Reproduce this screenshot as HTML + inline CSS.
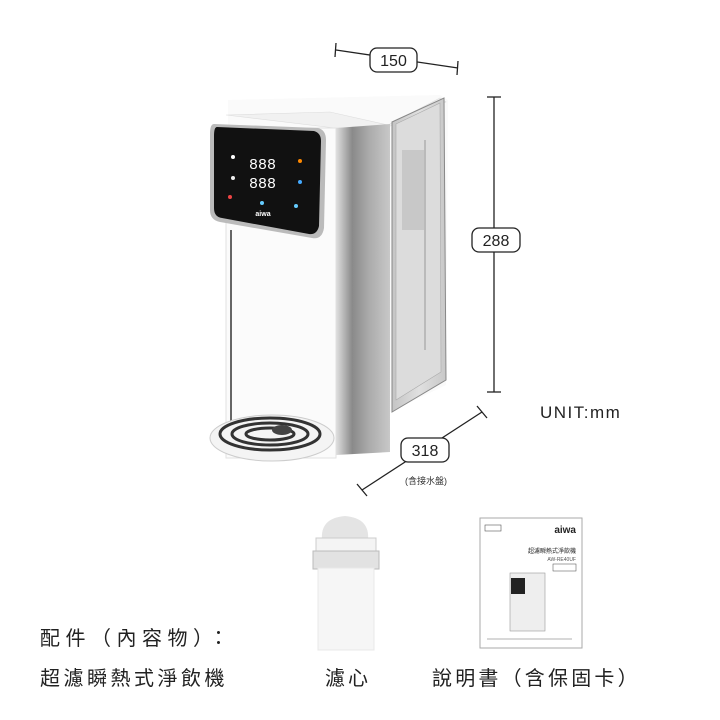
<!DOCTYPE html>
<html><head><meta charset="utf-8"><style>
body{margin:0;background:#fff;width:720px;height:720px;overflow:hidden;font-family:"Liberation Sans","Noto Sans CJK TC",sans-serif}
svg{position:absolute;left:0;top:0}
</style></head><body>
<svg width="720" height="720" viewBox="0 0 720 720" font-family="Liberation Sans, Noto Sans CJK TC, sans-serif">
<defs>
<linearGradient id="steel" x1="0" x2="1"><stop offset="0" stop-color="#e0e0e0"/><stop offset=".3" stop-color="#8a8a8a"/><stop offset=".6" stop-color="#aaa"/><stop offset="1" stop-color="#c8c8c8"/></linearGradient>
<linearGradient id="tank" x1="0" x2="1"><stop offset="0" stop-color="#c4c4c4"/><stop offset=".5" stop-color="#e0e0e0"/><stop offset="1" stop-color="#c8c8c8"/></linearGradient>
</defs>
<line x1="336" y1="50" x2="458" y2="68" stroke="#222" stroke-width="1.3"/>
<line x1="336" y1="43" x2="335" y2="57" stroke="#222" stroke-width="1.3"/>
<line x1="458" y1="61" x2="457" y2="75" stroke="#222" stroke-width="1.3"/>
<rect x="370" y="48" width="47" height="24" rx="7" fill="#fff" stroke="#222" stroke-width="1.3"/>
<text x="393.5" y="66" font-size="16" text-anchor="middle" fill="#222">150</text>
<line x1="494" y1="97" x2="494" y2="392" stroke="#222" stroke-width="1.3"/>
<line x1="487" y1="97" x2="501" y2="97" stroke="#222" stroke-width="1.3"/>
<line x1="487" y1="392" x2="501" y2="392" stroke="#222" stroke-width="1.3"/>
<rect x="472" y="228" width="48" height="24" rx="7" fill="#fff" stroke="#222" stroke-width="1.3"/>
<text x="496" y="246" font-size="16" text-anchor="middle" fill="#222">288</text>
<text x="540" y="418" font-size="17" fill="#222" letter-spacing="1.5">UNIT:mm</text>
<line x1="482" y1="412" x2="362" y2="490" stroke="#222" stroke-width="1.3"/>
<line x1="477" y1="406" x2="487" y2="418" stroke="#222" stroke-width="1.3"/>
<line x1="357" y1="484" x2="367" y2="496" stroke="#222" stroke-width="1.3"/>
<rect x="401" y="438" width="48" height="24" rx="7" fill="#fff" stroke="#222" stroke-width="1.3"/>
<text x="425" y="456" font-size="16" text-anchor="middle" fill="#222">318</text>
<text x="426" y="484" font-size="9" text-anchor="middle" fill="#333">(含接水盤)</text>
<path d="M228 100 L440 95 L448 100 L446 385 L390 412 L335 455 L228 455 Z" fill="#fafafa"/>
<path d="M226 115 L330 112 L388 125 L440 98 L446 102 L388 127 L335 128 Z" fill="#f1f1f1" stroke="#ddd" stroke-width=".6"/>
<rect x="226" y="128" width="110" height="330" fill="#fbfbfb" stroke="#e2e2e2"/>
<line x1="231" y1="230" x2="231" y2="440" stroke="#666" stroke-width="2"/>
<path d="M336 128 L390 124 L390 452 L336 455 Z" fill="url(#steel)"/>
<path d="M392 122 L444 98 L446 380 L392 412 Z" fill="url(#tank)" stroke="#888"/>
<path d="M396 124 L440 103 L441 372 L396 400 Z" fill="#dcdcdc" stroke="#aaa" stroke-width=".6"/>
<rect x="402" y="150" width="22" height="80" fill="#bbb" opacity=".6"/>
<line x1="425" y1="140" x2="425" y2="350" stroke="#999"/>
<path d="M214 124 L318 128 Q326 130 326 140 L324 228 Q322 240 312 238 L220 222 Q210 220 210 210 L210 134 Q210 124 214 124 Z" fill="#bbb"/>
<path d="M217 127 L314 131 Q321 133 321 141 L319 226 Q317 235 309 234 L222 218 Q214 217 214 208 L214 136 Q214 127 217 127 Z" fill="#111"/>
<text x="249" y="169" font-size="15" fill="#fff" font-family="Liberation Mono,monospace">888</text>
<text x="249" y="188" font-size="15" fill="#fff" font-family="Liberation Mono,monospace">888</text>
<text x="263" y="216" font-size="7" fill="#fff" text-anchor="middle" font-weight="bold">aiwa</text>
<circle cx="233" cy="157" r="2" fill="#fff"/><circle cx="233" cy="178" r="2" fill="#eee"/><circle cx="230" cy="197" r="2" fill="#e44"/>
<circle cx="300" cy="161" r="2" fill="#f80"/><circle cx="300" cy="182" r="2" fill="#4af"/><circle cx="296" cy="206" r="2" fill="#6cf"/><circle cx="262" cy="203" r="2" fill="#6cf"/>
<ellipse cx="272" cy="438" rx="62" ry="23" fill="#f4f4f4" stroke="#ccc"/>
<ellipse cx="270" cy="434" rx="50" ry="16" fill="none" stroke="#333" stroke-width="3"/>
<ellipse cx="270" cy="434" rx="38" ry="11" fill="none" stroke="#333" stroke-width="3"/>
<ellipse cx="270" cy="434" rx="24" ry="6" fill="none" stroke="#333" stroke-width="3"/>
<ellipse cx="282" cy="430" rx="10" ry="5" fill="#444"/>
<path d="M322 540 Q320 518 345 516 Q370 518 368 540 Z" fill="#e4e4e4"/>
<rect x="316" y="538" width="60" height="14" fill="#f4f4f4" stroke="#ccc"/>
<rect x="313" y="551" width="66" height="18" fill="#e2e2e2" stroke="#bbb"/>
<rect x="318" y="568" width="56" height="82" fill="#f6f6f6" stroke="#e8e8e8"/>
<rect x="480" y="518" width="102" height="130" fill="#fff" stroke="#aaa"/>
<rect x="485" y="525" width="16" height="6" fill="none" stroke="#555" stroke-width=".6"/>
<text x="576" y="533" font-size="10" font-weight="bold" text-anchor="end" fill="#222">aiwa</text>
<text x="576" y="553" font-size="6" text-anchor="end" fill="#222">超濾瞬熱式淨飲機</text>
<text x="576" y="561" font-size="5" text-anchor="end" fill="#555">AW-RE40UF</text>
<rect x="553" y="564" width="23" height="7" fill="none" stroke="#444" stroke-width=".5"/>
<rect x="510" y="573" width="35" height="58" fill="#eee" stroke="#999" stroke-width=".6"/>
<rect x="511" y="578" width="14" height="16" fill="#222"/>
<line x1="487" y1="639" x2="572" y2="639" stroke="#999" stroke-width=".8"/>
<text x="40" y="645" font-size="20" fill="#222" letter-spacing="5.5">配件（內容物）：</text>
<text x="40" y="685" font-size="20" fill="#222" letter-spacing="3.5">超濾瞬熱式淨飲機</text>
<text x="325" y="685" font-size="20" fill="#222" letter-spacing="3">濾心</text>
<text x="432" y="685" font-size="20" fill="#222" letter-spacing="3.2">說明書（含保固卡）</text>
</svg>
</body></html>
